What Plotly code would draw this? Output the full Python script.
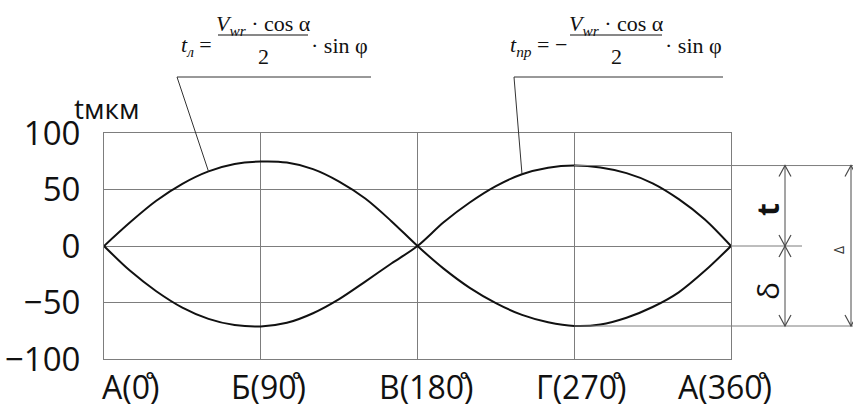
import plotly.graph_objects as go

# ---- data: cutting depth t (мкм) against angle φ (degrees) ----
PHI = [0, 15, 30, 45, 60, 75, 90, 105, 120, 135, 150, 165, 180,
       195, 210, 225, 240, 255, 270, 285, 300, 315, 330, 345, 360]
# left-hand edge: t_л
T_L = [0, 21, 40, 55, 66, 72.5, 74.7, 73.8, 68, 57, 42, 22, 0,
       -20, -37, -50.5, -61, -67.5, -70.8, -69.5, -63.5, -54, -41, -22, 0]
# right-hand edge: t_пр
T_R = [0, -22, -40, -54.5, -64.5, -70, -71.2, -68, -59.5, -47, -31.5, -15.5, 0,
       21, 38.5, 53, 63.5, 69.3, 71.2, 69.5, 64.5, 55.5, 41.5, 23.5, 0]

X_TICKS = [0, 90, 180, 270, 360]
X_LABELS = ["А(0\u030A)", "Б(90\u030A)", "В(180\u030A)", "Г(270\u030A)", "А(360\u030A)"]
Y_TICKS = [-100, -50, 0, 50, 100]

# ---- geometry of the figure (pixels) ----
W, H = 853, 408
PL, PR, PT, PB = 104, 731, 133, 359
X_RANGE = (0, 360)
Y_RANGE = (-100, 100)
LABEL_NUDGE = [26, 8, 8, 7, -6]

GRID = "#7d7d7d"
DIM = "#4a4a4a"
SANS = "Open Sans"
SERIF = "Liberation Serif"


def px_x(px):
    return (px - PL) / (PR - PL)


def px_y(py):
    return (PB - py) / (PB - PT)


def dx(deg):
    return (deg - X_RANGE[0]) / (X_RANGE[1] - X_RANGE[0])


def dy(v):
    return (v - Y_RANGE[0]) / (Y_RANGE[1] - Y_RANGE[0])


def to_px_y(v):
    return PB - dy(v) * (PB - PT)


fig = go.Figure()
for t in (T_L, T_R):
    fig.add_trace(go.Scatter(
        x=PHI, y=t, mode="lines",
        line=dict(color="#111111", width=2, shape="spline", smoothing=0.9),
        hoverinfo="skip", showlegend=False,
    ))

shapes = []
annotations = []


def seg(x0, y0, x1, y1, color=DIM, width=1):
    shapes.append(dict(type="line", xref="paper", yref="paper",
                       x0=x0, y0=y0, x1=x1, y1=y1,
                       line=dict(color=color, width=width)))


def arrow(px, py, up=True, half=6, length=11):
    s = 1 if up else -1
    pts = [(px - half, py + s * length), (px, py), (px + half, py + s * length)]
    path = "M {} {} L {} {} L {} {}".format(
        *[v for p in pts for v in (px_x(p[0]), px_y(p[1]))])
    shapes.append(dict(type="path", xref="paper", yref="paper", path=path,
                       line=dict(color=DIM, width=1.2)))


# leader lines from the formulas to the curves
LEAD_Y = 77
i_l = PHI.index(60)
seg(px_x(177), px_y(LEAD_Y), px_x(371), px_y(LEAD_Y), color="#333333")
seg(px_x(177), px_y(LEAD_Y), dx(PHI[i_l]), dy(T_L[i_l]), color="#333333")
i_r = PHI.index(240)
seg(px_x(514), px_y(LEAD_Y), px_x(723), px_y(LEAD_Y), color="#333333")
seg(px_x(514), px_y(LEAD_Y), dx(PHI[i_r]), dy(T_R[i_r]), color="#333333")

# extension and dimension lines on the right
half = PHI.index(180)
t_max = max(T_R[half:])
d_min = min(T_L[half:])
phi_top = PHI[T_R.index(t_max)]
phi_bot = PHI[T_L.index(d_min)]
seg(dx(phi_top), dy(t_max), px_x(W + 5), dy(t_max), color=GRID)
seg(dx(phi_bot), dy(d_min), px_x(W + 5), dy(d_min), color=GRID)
seg(1, dy(0), px_x(802), dy(0), color=GRID)

DIM_X = 785
seg(px_x(DIM_X), dy(t_max), px_x(DIM_X), dy(d_min))
arrow(DIM_X, to_px_y(t_max), up=True)
arrow(DIM_X, to_px_y(0), up=False)
arrow(DIM_X, to_px_y(0), up=True)
arrow(DIM_X, to_px_y(d_min), up=False)

DELTA_X = 851
seg(px_x(DELTA_X), dy(t_max), px_x(DELTA_X), dy(d_min))
arrow(DELTA_X, to_px_y(t_max), up=True)
arrow(DELTA_X, to_px_y(d_min), up=False)

annotations += [
    dict(text="<b>t</b>", x=px_x(767), y=px_y(210), textangle=-90,
         font=dict(family=SANS, size=30, color="#111")),
    dict(text="δ", x=px_x(767), y=px_y(291), textangle=-90,
         font=dict(family=SANS, size=30, color="#111")),
    dict(text="Δ", x=px_x(838), y=px_y(250), textangle=-90,
         font=dict(family=SANS, size=14, color="#333")),
]


# formulas
def formula(eq_text, eq_right, bar_l, bar_r, tail_left):
    cx = (bar_l + bar_r) / 2
    annotations.extend([
        dict(text=eq_text, x=px_x(eq_right), y=px_y(46), xanchor="right"),
        dict(text="<i>V</i><sub><i>wr</i></sub> · cos α", x=px_x(cx), y=px_y(25)),
        dict(text="2", x=px_x(cx), y=px_y(57)),
        dict(text="· sin φ", x=px_x(tail_left), y=px_y(45), xanchor="left"),
    ])
    seg(px_x(bar_l), px_y(35), px_x(bar_r), px_y(35), color="#111", width=1)


formula("<i>t</i><sub><i>л</i></sub> =", 214, 218, 308, 309)
formula("<i>t</i><sub><i>пр</i></sub> = −", 569, 570, 662, 663)

for a in annotations:
    a.setdefault("font", dict(family=SERIF, size=22, color="#111"))

# axis title and x labels
annotations.append(dict(text="tмкм", x=px_x(107), y=px_y(108),
                        font=dict(family=SANS, size=28, color="#111")))
for v, lab, nudge in zip(X_TICKS, X_LABELS, LABEL_NUDGE):
    annotations.append(dict(text=lab, xref="x", x=v, y=px_y(386), xshift=nudge,
                            font=dict(family=SANS, size=32, color="#111")))

for a in annotations:
    a.setdefault("xref", "paper")
    a.setdefault("yref", "paper")
    a.setdefault("xanchor", "center")
    a.setdefault("yanchor", "middle")
    a.setdefault("showarrow", False)

fig.update_layout(
    width=W, height=H,
    margin=dict(l=PL, r=W - PR, t=PT, b=H - PB),
    paper_bgcolor="white", plot_bgcolor="white",
    shapes=shapes, annotations=annotations,
    xaxis=dict(range=list(X_RANGE), tickvals=X_TICKS, showticklabels=False,
               automargin=False,
               showgrid=True, gridcolor=GRID, gridwidth=1, zeroline=False,
               showline=True, mirror=True, linecolor=GRID, linewidth=1),
    yaxis=dict(range=list(Y_RANGE), tickvals=Y_TICKS, automargin=False,
               tickfont=dict(family=SANS, size=33, color="#111"),
               ticklabelstandoff=16,
               showgrid=True, gridcolor=GRID, gridwidth=1, zeroline=False,
               showline=True, mirror=True, linecolor=GRID, linewidth=1),
)

fig.write_html("out.html")
